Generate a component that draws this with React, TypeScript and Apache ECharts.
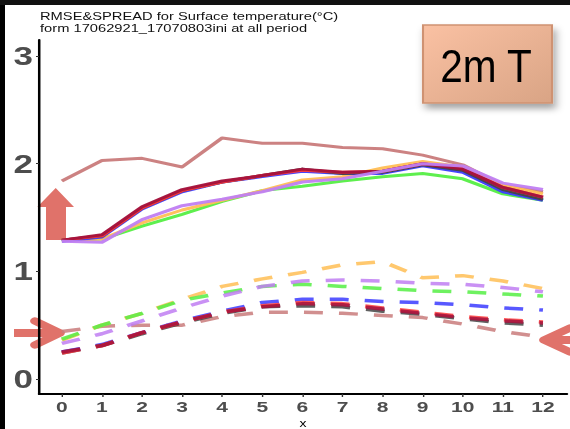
import React, { useEffect, useRef } from "react";
import * as echarts from "echarts";

// Horizontal stretch of the rendered chart (the figure is wider than its native layout)
const S = 570 / 407;
const W = 407;
const H = 429;

const steps = [0, 1, 2, 3, 4, 5, 6, 7, 8, 9, 10, 11, 12];
const yTickValues = [0, 1, 2, 3];

const runNames = ["run1", "run2", "run3", "run4", "run5", "run6", "run7", "run8"];
const runColors = ["#C97B7B", "#55EE44", "#FFBE55", "#3B3BFF", "#444444", "#FF3B3B", "#A3123D", "#C07EF2"];

// RMSE (solid)
const rmse1 = [1.84, 2.03, 2.05, 1.97, 2.24, 2.19, 2.19, 2.15, 2.14, 2.08, 1.99, 1.80, 1.74];
const rmse2 = [1.29, 1.30, 1.42, 1.53, 1.65, 1.75, 1.79, 1.84, 1.88, 1.91, 1.86, 1.72, 1.66];
const rmse3 = [1.29, 1.30, 1.45, 1.57, 1.66, 1.75, 1.85, 1.88, 1.96, 2.02, 1.97, 1.80, 1.72];
const rmse4 = [1.28, 1.32, 1.58, 1.74, 1.83, 1.88, 1.93, 1.91, 1.91, 1.98, 1.92, 1.74, 1.66];
const rmse5 = [1.29, 1.33, 1.59, 1.75, 1.83, 1.89, 1.95, 1.91, 1.92, 1.99, 1.94, 1.76, 1.67];
const rmse6 = [1.29, 1.33, 1.59, 1.75, 1.83, 1.89, 1.94, 1.92, 1.93, 2.00, 1.96, 1.78, 1.69];
const rmse7 = [1.29, 1.34, 1.60, 1.76, 1.84, 1.89, 1.95, 1.92, 1.93, 2.00, 1.95, 1.78, 1.69];
const rmse8 = [1.28, 1.27, 1.48, 1.61, 1.67, 1.74, 1.83, 1.86, 1.93, 2.00, 1.98, 1.82, 1.76];

// SPREAD (dashed)
const spread1 = [0.44, 0.49, 0.50, 0.50, 0.58, 0.62, 0.62, 0.61, 0.59, 0.57, 0.51, 0.44, 0.39];
const spread2 = [0.37, 0.50, 0.61, 0.73, 0.80, 0.86, 0.88, 0.86, 0.84, 0.82, 0.81, 0.79, 0.77];
const spread3 = [0.36, 0.50, 0.61, 0.74, 0.86, 0.93, 0.99, 1.06, 1.09, 0.94, 0.96, 0.91, 0.84];
const spread4 = [0.25, 0.32, 0.43, 0.54, 0.63, 0.71, 0.74, 0.74, 0.72, 0.71, 0.69, 0.66, 0.64];
const spread5 = [0.24, 0.31, 0.42, 0.52, 0.61, 0.67, 0.68, 0.67, 0.63, 0.60, 0.56, 0.52, 0.50];
const spread6 = [0.24, 0.31, 0.43, 0.53, 0.62, 0.68, 0.71, 0.70, 0.66, 0.62, 0.58, 0.55, 0.53];
const spread7 = [0.25, 0.31, 0.43, 0.53, 0.62, 0.67, 0.70, 0.69, 0.65, 0.61, 0.57, 0.54, 0.52];
const spread8 = [0.33, 0.42, 0.54, 0.66, 0.77, 0.86, 0.91, 0.92, 0.91, 0.89, 0.88, 0.85, 0.81];

const rmseRuns = [rmse1, rmse2, rmse3, rmse4, rmse5, rmse6, rmse7, rmse8];
const spreadRuns = [spread1, spread2, spread3, spread4, spread5, spread6, spread7, spread8];

// drawing order (bottom to top)
const rmseOrder = [0, 1, 2, 3, 4, 5, 6, 7];
const spreadOrder = [0, 2, 1, 7, 3, 4, 5, 6];

const FONT = "Liberation Sans";
const ARROW = "#E0726A";

const px = (x: number) => x / S;

function buildOption() {
  const toPairs = (vals: number[]) => steps.map((s, i) => [s, vals[i]]);

  const rmseSeries = rmseOrder.map((k) => ({
    name: runNames[k] + " RMSE",
    type: "line",
    data: toPairs(rmseRuns[k]),
    showSymbol: false,
    symbol: "none",
    silent: true,
    lineStyle: { color: runColors[k], width: 3, opacity: 0.95, join: "round" },
  }));

  const spreadSeries = spreadOrder.map((k) => ({
    name: runNames[k] + " SPREAD",
    type: "line",
    data: toPairs(spreadRuns[k]),
    showSymbol: false,
    symbol: "none",
    silent: true,
    lineStyle: { color: runColors[k], width: 3.5, opacity: 0.85, type: [13.5, 11.5] },
  }));

  const graphic: any[] = [
    // dark frame strips
    { type: "rect", shape: { x: 0, y: 0, width: px(5), height: H }, style: { fill: "#000" }, silent: true },
    { type: "rect", shape: { x: 0, y: 0, width: W, height: 5 }, style: { fill: "#111" }, silent: true },
    // titles
    {
      type: "text",
      x: px(40),
      y: 16,
      style: { text: "RMSE&SPREAD for Surface temperature(°C)", fontSize: 10.5, fontFamily: FONT, fill: "#111", verticalAlign: "middle" },
    },
    {
      type: "text",
      x: px(40),
      y: 28,
      style: { text: "form 17062921_17070803ini at all period", fontSize: 10.5, fontFamily: FONT, fill: "#111", verticalAlign: "middle" },
    },
    // label box
    {
      type: "rect",
      shape: { x: px(423), y: 25, width: px(129), height: 78 },
      style: {
        fill: new echarts.graphic.LinearGradient(0, 0, 1, 1, [
          { offset: 0, color: "#FAC1A3" },
          { offset: 1, color: "#D9A485" },
        ]),
        stroke: "#CF9272",
        lineWidth: 1.5,
        shadowBlur: 6,
        shadowOffsetX: px(3),
        shadowOffsetY: 5,
        shadowColor: "rgba(0,0,0,0.35)",
      },
      silent: true,
    },
    {
      type: "text",
      x: px(486),
      y: 66,
      scaleX: 0.63,
      style: { text: "2m T", fontSize: 46, fontFamily: FONT, fill: "#000", align: "center", verticalAlign: "middle" },
    },
    // up arrow
    {
      type: "polygon",
      shape: {
        points: [
          [px(55.7), 188],
          [px(74), 207],
          [px(66), 207],
          [px(66), 240],
          [px(46), 240],
          [px(46), 207],
          [px(37.3), 207],
        ],
      },
      style: { fill: ARROW },
      silent: true,
    },
    // right-pointing arrow on the left
    {
      type: "polyline",
      shape: { points: [[px(14), 333], [px(58), 333]] },
      style: { stroke: ARROW, lineWidth: 8, fill: null },
      silent: true,
    },
    {
      type: "polyline",
      shape: { points: [[px(35), 321], [px(60), 333], [px(35), 345]] },
      style: { stroke: ARROW, lineWidth: 7, lineJoin: "round", lineCap: "round", fill: null },
      silent: true,
    },
    // left-pointing arrow on the right
    {
      type: "polyline",
      shape: { points: [[px(545), 340], [px(575), 340]] },
      style: { stroke: ARROW, lineWidth: 8, fill: null },
      silent: true,
    },
    {
      type: "polyline",
      shape: { points: [[px(570), 328], [px(544), 340], [px(570), 352]] },
      style: { stroke: ARROW, lineWidth: 7, lineJoin: "round", lineCap: "round", fill: null },
      silent: true,
    },
  ];

  return {
    animation: false,
    backgroundColor: "#fff",
    grid: { left: px(39), right: px(3), top: 40, bottom: 35, containLabel: false, outerBoundsMode: "none" },
    xAxis: {
      type: "value",
      min: -0.57,
      max: 12.6,
      name: "x",
      nameLocation: "middle",
      nameGap: 23,
      nameTextStyle: { fontSize: 10, fontFamily: FONT, color: "#000" },
      axisLine: { show: true, onZero: false, lineStyle: { color: "#000", width: 1.8 } },
      axisTick: { show: true, length: 3, customValues: steps, lineStyle: { color: "#333", width: 1 } },
      axisLabel: { customValues: steps, fontSize: 15, fontWeight: "bold", fontFamily: FONT, color: "#4D4D4D", margin: 5 },
      splitLine: { show: false },
    },
    yAxis: {
      type: "value",
      min: -0.14,
      max: 3.15,
      axisLine: { show: true, onZero: false, lineStyle: { color: "#000", width: 1.8 } },
      axisTick: { show: true, length: px(3), customValues: yTickValues, lineStyle: { color: "#333", width: 1 } },
      axisLabel: { customValues: yTickValues, fontSize: 25, fontWeight: "bold", fontFamily: FONT, color: "#4D4D4D", margin: px(6) },
      splitLine: { show: false },
    },
    series: [...spreadSeries, ...rmseSeries],
    graphic,
  };
}

export default function App() {
  const ref = useRef<HTMLDivElement>(null);

  useEffect(() => {
    if (!ref.current) return;
    const chart = echarts.init(ref.current, null, { renderer: "svg" });
    chart.setOption(buildOption() as any);
    return () => chart.dispose();
  }, []);

  return (
    <div style={{ position: "absolute", left: 0, top: 0, width: 570, height: H, overflow: "hidden", background: "#fff" }}>
      <div
        ref={ref}
        style={{ width: W, height: H, transform: `scaleX(${S})`, transformOrigin: "0 0" }}
      />
    </div>
  );
}
